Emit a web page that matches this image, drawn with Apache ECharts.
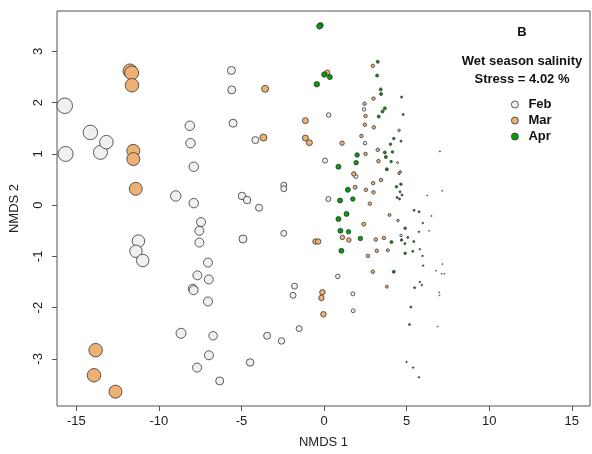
<!DOCTYPE html>
<html>
<head>
<meta charset="utf-8">
<script src="https://cdn.jsdelivr.net/npm/echarts@6/dist/echarts.min.js"></script>
<style>
  html, body { margin: 0; padding: 0; background: #fff; }
  #main { width: 592px; height: 454px; }
</style>
</head>
<body>
<div id="main"></div>
<script>
// NMDS scores: [NMDS 1, NMDS 2, relative point size]
var feb = [
  [-15.70, 1.94, 15.5], [-15.65, 1.00, 15], [-14.15, 1.42, 14.5], [-13.54, 1.03, 14], [-13.18, 1.23, 13.5],
  [-11.24, -0.70, 12.5], [-11.39, -0.90, 12.5], [-10.98, -1.08, 12.5],
  [-8.98, 0.18, 10.5], [-7.89, 0.04, 9.5], [-8.13, 1.55, 9.5], [-8.09, 1.21, 9.5], [-7.89, 0.75, 9.5],
  [-7.45, -0.33, 9], [-7.55, -0.50, 9], [-7.55, -0.73, 9], [-7.03, -1.12, 9], [-7.67, -1.37, 9],
  [-6.98, -1.45, 9], [-7.95, -1.63, 9], [-7.90, -1.66, 9], [-7.03, -1.88, 9], [-8.66, -2.50, 10],
  [-6.72, -2.55, 8.5], [-6.97, -2.93, 9], [-7.69, -3.17, 9], [-6.32, -3.43, 8],
  [-5.61, 2.63, 8], [-5.59, 2.25, 8], [-5.51, 1.60, 8], [-4.97, 0.18, 7.5], [-4.66, 0.10, 7.5],
  [-4.16, 1.27, 7], [-3.94, -0.05, 7], [-4.91, -0.66, 8],
  [-4.48, -3.07, 7.5], [-3.45, -2.55, 7], [-2.58, -2.65, 6.5], [-1.51, -2.41, 6],
  [-2.44, 0.39, 6], [-2.44, 0.32, 6], [-2.44, -0.55, 6], [-1.79, -1.58, 6], [-1.88, -1.76, 6],
  [0.28, 1.76, 4.5], [0.06, 0.87, 5], [0.26, 0.12, 5], [0.83, -1.39, 4.5], [1.74, -1.73, 4], [1.76, -2.06, 4],
  [1.92, 0.56, 4], [2.42, 1.87, 3.5], [2.48, 1.21, 3.5], [4.45, 0.83, 2], [4.66, -0.59, 2.5],
  [6.50, -0.21, 1.2], [6.36, -0.50, 1], [7.01, 1.05, 1.2], [7.15, 0.28, 1], [6.24, 0.19, 1],
  [7.17, -1.15, 1], [6.77, -1.28, 1], [7.13, -1.34, 1], [7.29, -1.34, 1], [6.97, -1.70, 1],
  [6.99, -1.76, 1], [6.87, -2.37, 1]
];
var mar = [
  [-11.75, 2.62, 14], [-11.65, 2.58, 14], [-11.63, 2.34, 13.5], [-11.55, 1.06, 13], [-11.55, 0.90, 13], [-11.40, 0.32, 13],
  [-13.83, -2.83, 13.5], [-13.93, -3.32, 13.5], [-12.63, -3.64, 13],
  [-3.57, 2.27, 7], [-3.67, 1.32, 7], [-1.13, 1.65, 6], [-1.13, 1.31, 6], [-0.89, 1.22, 6], [0.20, 2.59, 5],
  [-0.52, -0.71, 5.5], [-0.36, -0.71, 5.5], [-0.10, -1.70, 5.5], [-0.16, -1.81, 5.5], [-0.04, -2.13, 5.5],
  [1.09, 1.21, 4.5], [1.80, 0.61, 4.5], [1.88, 0.35, 4], [1.11, -0.63, 4.5], [1.50, -0.68, 4.5], [2.40, -0.37, 4],
  [2.95, 2.72, 3.5], [2.99, 2.08, 3.5], [2.45, 1.98, 3.5], [2.51, 1.74, 3.5], [2.47, 1.57, 3.5], [3.01, 1.52, 3.5],
  [2.26, 1.35, 3.5], [2.51, 1.00, 3.5], [3.25, 1.08, 3.5], [3.29, 0.86, 3.5], [3.45, 0.49, 3.5], [2.97, 0.43, 3.5],
  [2.53, 0.30, 3.5], [2.99, 0.25, 3.5], [2.77, 0.03, 3.5],
  [3.13, -0.67, 3.5], [3.62, -0.64, 3.5], [3.19, -0.89, 3.5], [3.86, -0.88, 3], [2.65, -0.99, 3.5],
  [2.95, -1.30, 3.5], [3.80, -1.59, 3], [3.96, -0.19, 3], [4.48, -0.30, 2.5],
  [4.54, 1.46, 2.5], [4.54, 0.62, 2.5], [4.62, 0.65, 2.5]
];
var apr = [
  [-0.22, 3.51, 5.5], [-0.28, 3.49, 5.5], [0.02, 2.55, 5.5], [0.35, 2.50, 5], [-0.44, 2.36, 5.5],
  [0.87, 0.75, 5], [2.00, 0.98, 4.5], [1.94, 0.83, 4.5], [1.44, 0.30, 5], [1.74, 0.12, 4.5], [0.97, 0.09, 5],
  [1.36, -0.17, 5], [0.87, -0.27, 5], [0.99, -0.50, 5], [1.48, -0.52, 4.5], [2.20, -0.65, 4.5], [1.05, -0.89, 5],
  [3.25, 2.80, 3], [3.21, 2.53, 3], [3.43, 2.26, 3], [3.45, 2.17, 3], [3.68, 1.89, 3], [3.54, 1.83, 3], [3.31, 1.73, 3],
  [4.22, 1.30, 2.5], [4.02, 1.19, 2.5], [3.68, 1.03, 3], [4.14, 1.04, 2.5], [3.74, 0.94, 3], [4.06, 0.85, 2.5], [3.80, 0.70, 3],
  [4.38, 0.36, 2.5], [4.65, 0.41, 2.5], [4.60, 0.26, 2], [4.72, 0.20, 2], [4.42, 0.15, 2], [4.57, 0.12, 2],
  [4.69, 2.11, 2], [4.79, 1.77, 2], [4.66, 1.25, 2],
  [4.08, -0.72, 3], [4.22, -1.30, 3], [4.69, -0.68, 2.5],
  [5.45, -0.10, 2], [5.75, -0.13, 2], [5.98, -0.35, 1.5], [4.91, -0.45, 2.5], [5.74, -0.52, 1.5], [5.07, -0.63, 2],
  [5.43, -0.71, 2], [4.89, -0.75, 2], [4.91, -0.94, 2.5], [5.37, -0.90, 2], [5.80, -0.86, 1.5], [5.96, -0.99, 1.5],
  [6.00, -1.18, 1.5], [5.80, -1.50, 1.5], [5.92, -1.56, 1.5], [5.48, -1.61, 2], [5.25, -1.99, 2], [5.17, -2.33, 2],
  [4.99, -3.06, 1.5], [5.39, -3.17, 1.5], [5.74, -3.36, 1.5]
];
var months = ['Feb', 'Mar', 'Apr'];
var xTicks = [-15, -10, -5, 0, 5, 10, 15];
var yTicks = [-3, -2, -1, 0, 1, 2, 3];

var FONT = '"Liberation Sans", Arial, Helvetica, sans-serif';
var colors = ['#f0f0f0', '#efb073', '#0a9a0a'];

var chart = echarts.init(document.getElementById('main'), null, { renderer: 'canvas' });

function makeSeries(name, data, i) {
  return {
    name: name,
    type: 'scatter',
    data: data,
    symbol: 'circle',
    symbolSize: function (v) { return v[2]; },
    itemStyle: { color: colors[i], borderColor: '#333', borderWidth: 0.8, opacity: 1 },
    emphasis: { disabled: true },
    animation: false
  };
}

var option = {
  backgroundColor: '#fff',
  textStyle: { fontFamily: FONT },
  grid: {
    left: 57, right: 2, top: 11, bottom: 44,
    show: true, borderColor: '#555', borderWidth: 1, backgroundColor: 'transparent'
  },
  xAxis: {
    type: 'value', min: -16.17, max: 16.1,
    name: 'NMDS 1', nameLocation: 'middle', nameGap: 30,
    nameTextStyle: { fontSize: 13, color: '#222', fontFamily: FONT },
    axisLine: { show: false, onZero: false },
    splitLine: { show: false },
    axisTick: { show: true, length: 5, customValues: xTicks, lineStyle: { color: '#555' } },
    axisLabel: { customValues: xTicks, fontSize: 13, color: '#222', margin: 9, fontFamily: FONT }
  },
  yAxis: {
    type: 'value', min: -3.92, max: 3.79,
    name: 'NMDS 2', nameLocation: 'middle', nameGap: 36, nameRotate: 90,
    nameTextStyle: { fontSize: 13, color: '#222', fontFamily: FONT },
    axisLine: { show: false, onZero: false },
    splitLine: { show: false },
    axisTick: { show: true, length: 5, customValues: yTicks, lineStyle: { color: '#555' } },
    axisLabel: { customValues: yTicks, rotate: 90, fontSize: 13, color: '#222', margin: 12, fontFamily: FONT }
  },
  legend: {
    data: months,
    orient: 'vertical',
    left: 506, top: 93,
    icon: 'circle',
    itemWidth: 7, itemHeight: 7, itemGap: 3,
    selectedMode: false,
    itemStyle: { borderColor: '#333', borderWidth: 0.8 },
    textStyle: { fontSize: 13, fontWeight: 'bold', color: '#111', fontFamily: FONT, padding: [0, 0, 0, 5] }
  },
  graphic: [
    { type: 'text', x: 522, y: 32, style: { text: 'B', font: 'bold 13px ' + FONT, fill: '#111', align: 'center', verticalAlign: 'middle' } },
    { type: 'text', x: 522, y: 61, style: { text: 'Wet season salinity', font: 'bold 13px ' + FONT, fill: '#111', align: 'center', verticalAlign: 'middle' } },
    { type: 'text', x: 522, y: 79, style: { text: 'Stress = 4.02 %', font: 'bold 13px ' + FONT, fill: '#111', align: 'center', verticalAlign: 'middle' } }
  ],
  series: [
    makeSeries('Feb', feb, 0),
    makeSeries('Mar', mar, 1),
    makeSeries('Apr', apr, 2)
  ]
};

chart.setOption(option);
</script>
</body>
</html>
